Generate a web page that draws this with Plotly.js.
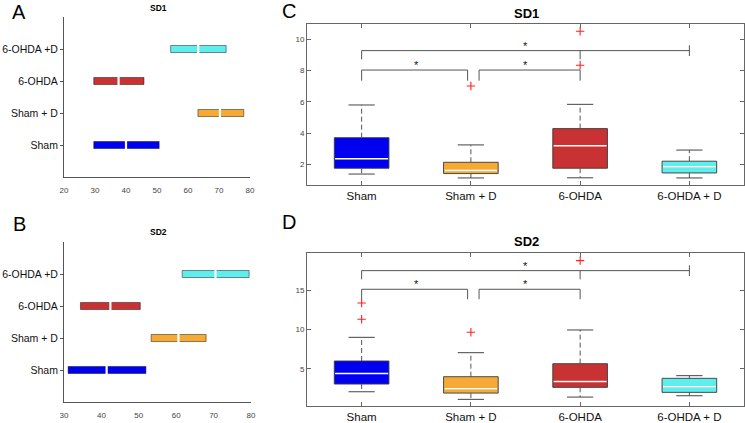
<!DOCTYPE html>
<html>
<head>
<meta charset="utf-8">
<script src="https://cdn.plot.ly/plotly-3.0.1.min.js"></script>
<style>html,body{margin:0;padding:0;background:#fff;}#chart{width:745px;height:423px;}</style>
</head>
<body>
<div id="chart"></div>
<script>
// ---------- data ----------
const groups = ['Sham', 'Sham + D', '6-OHDA', '6-OHDA + D'];
const intervalLabels = ['Sham', 'Sham + D', '6-OHDA', '6-OHDA +D'];
const groupColors = ['#0000f0', '#f6a935', '#c83232', '#5eeeee'];

// Panel A (SD1 intervals)
const aLow  = [29.6, 63.2, 29.6, 54.4];
const aHigh = [50.7, 78.0, 45.8, 72.3];
const aMid  = [40.0, 70.3, 37.6, 63.3];
// Panel B (SD2 intervals)
const bLow  = [31.1, 53.3, 34.4, 61.6];
const bHigh = [51.9, 68.0, 50.4, 79.5];
const bMid  = [41.4, 60.6, 42.4, 70.5];

// Panel C (SD1 box plots)
const cQ1  = [1.77, 1.43, 1.77, 1.47];
const cMed = [2.38, 1.62, 3.21, 1.87];
const cQ3  = [3.72, 2.15, 4.30, 2.22];
const cLo  = [1.40, 1.15, 1.16, 1.15];
const cHi  = [5.81, 3.26, 5.85, 2.93];
const cOutGroup = [1, 2, 2];
const cOutVal   = [7.02, 8.35, 10.52];
// Panel D (SD2 box plots)
const dQ1  = [3.04, 1.89, 2.62, 1.98];
const dMed = [4.40, 2.45, 3.38, 2.70];
const dQ3  = [5.98, 3.98, 5.64, 3.77];
const dLo  = [2.06, 1.09, 1.38, 1.55];
const dHi  = [9.00, 7.04, 9.94, 4.11];
const dOutGroup = [0, 0, 1, 2];
const dOutVal   = [13.38, 11.30, 9.64, 18.79];

// significance brackets
const sigPairs = [[0, 1], [1, 2], [0, 3]];
const sigMid   = [null, null, 2];
const cSigY    = [8.04, 8.04, 9.28];
const cSigDrop = [7.36, 7.36, 8.72];
const dSigY    = [15.13, 15.13, 17.51];
const dSigDrop = [13.87, 13.87, 16.40];

// ---------- build ----------
const FONT = 'Liberation Sans, Arial, sans-serif';
const traces = [];
const shapes = [];
const annotations = [];
const idx = groups.map((_, i) => i);

function intervalPanel(low, high, mid, xa, ya) {
  traces.push({
    type: 'bar', orientation: 'h', y: idx, base: low,
    x: high.map((h, i) => h - low[i]), width: 0.22,
    marker: {color: groupColors, line: {color: 'rgba(0,0,0,0.45)', width: 1}},
    xaxis: xa, yaxis: ya, hoverinfo: 'skip', showlegend: false
  });
  traces.push({
    type: 'scatter', mode: 'markers', x: mid, y: idx,
    marker: {symbol: 'line-ns-open', size: 7, color: '#ffffff', line: {color: '#ffffff', width: 2.2}},
    xaxis: xa, yaxis: ya, hoverinfo: 'skip', showlegend: false
  });
}

function boxPanel(q1, med, q3, lo, hi, outG, outV, sigY, sigDrop, xa, ya) {
  const xr = xa.replace('axis', ''), yr = ya.replace('axis', '');
  groups.forEach((g, i) => {
    traces.push({
      type: 'box', x: [i], q1: [q1[i]], median: [med[i]], q3: [q3[i]],
      lowerfence: [q1[i]], upperfence: [q3[i]], width: 0.5, whiskerwidth: 0,
      fillcolor: groupColors[i], line: {color: '#3a3a3a', width: 0.9},
      boxpoints: false, xaxis: xa, yaxis: ya, hoverinfo: 'skip', showlegend: false
    });
    const L = (x0, y0, x1, y1, color, w, dash) => shapes.push({
      type: 'line', xref: xr, yref: yr, x0, y0, x1, y1, layer: 'above',
      line: {color, width: w, dash: dash || 'solid'}
    });
    L(i - 0.243, med[i], i + 0.243, med[i], '#ffffff', 1.5);
    L(i, q3[i], i, hi[i], '#555555', 1, '5px,3px');
    L(i, q1[i], i, lo[i], '#555555', 1, '5px,3px');
    L(i - 0.12, hi[i], i + 0.12, hi[i], '#444444', 1);
    L(i - 0.12, lo[i], i + 0.12, lo[i], '#444444', 1);
  });
  traces.push({
    type: 'scatter', mode: 'markers', x: outG, y: outV,
    marker: {symbol: 'cross-thin-open', size: 6, color: '#ff2020', line: {color: '#ff2020', width: 1.1}},
    xaxis: xa, yaxis: ya, hoverinfo: 'skip', showlegend: false
  });
  sigPairs.forEach((p, k) => {
    const [a, b] = p;
    const x0 = a + (a === 1 ? 0.075 : 0);
    const x1 = b - (b === 1 ? 0.03 : 0);
    const y = sigY[k], dr = sigDrop[k];
    const S = (xx0, yy0, xx1, yy1) => shapes.push({
      type: 'line', xref: xr, yref: yr, x0: xx0, y0: yy0, x1: xx1, y1: yy1,
      layer: 'above', line: {color: '#555555', width: 1}
    });
    S(x0, y, x1, y);
    S(x0, y, x0, dr);
    if (b === 3) {
      const h = (y - dr) * 0.62;
      S(x1, y + h, x1, y - h);
    } else {
      S(x1, y, x1, dr);
    }
    if (sigMid[k] !== null) S(sigMid[k], y, sigMid[k], dr);
    annotations.push({
      xref: xr, yref: yr, x: (a + b) / 2, y: y, text: '*', showarrow: false,
      yanchor: 'bottom', yshift: -3, font: {family: FONT, size: 11, color: '#111'}
    });
  });
}

intervalPanel(aLow, aHigh, aMid, 'x', 'y');
intervalPanel(bLow, bHigh, bMid, 'x2', 'y2');
boxPanel(cQ1, cMed, cQ3, cLo, cHi, cOutGroup, cOutVal, cSigY, cSigDrop, 'x3', 'y3');
boxPanel(dQ1, dMed, dQ3, dLo, dHi, dOutGroup, dOutVal, dSigY, dSigDrop, 'x4', 'y4');

// ---------- layout ----------
const W = 745, H = 423;
const px = v => v / W;
const py = v => (H - v) / H;

const intervalX = (lo, hi, dom, ya) => ({
  domain: dom, range: [lo, hi], anchor: ya, showgrid: false, zeroline: false,
  showline: true, linecolor: '#555', linewidth: 1, ticks: '',
  tickvals: [20, 30, 40, 50, 60, 70, 80].filter(v => v >= lo && v <= hi),
  tickfont: {family: FONT, size: 8, color: '#444'}, ticklabelstandoff: 5, fixedrange: true
});
const intervalY = (dom, xa) => ({
  domain: dom, range: [-1, 4], anchor: xa, showgrid: false, zeroline: false,
  showline: true, linecolor: '#555', linewidth: 1, ticks: 'outside', ticklen: 3,
  tickcolor: '#555', tickvals: idx, ticktext: intervalLabels,
  tickfont: {family: FONT, size: 10.5, color: '#111'}, ticklabelstandoff: 0, fixedrange: true
});
const boxX = (dom, ya) => ({
  domain: dom, range: [-0.5, 3.5], anchor: ya, showgrid: false, zeroline: false,
  showline: true, mirror: 'ticks', linecolor: '#666', linewidth: 1,
  ticks: 'inside', ticklen: 4, tickcolor: '#666', tickvals: idx, ticktext: groups,
  tickfont: {family: FONT, size: 11.5, color: '#111'}, fixedrange: true
});
const boxY = (dom, xa, range, tv) => ({
  domain: dom, range: range, anchor: xa, showgrid: false, zeroline: false,
  showline: true, mirror: 'ticks', linecolor: '#666', linewidth: 1,
  ticks: 'inside', ticklen: 4, tickcolor: '#666', tickvals: tv,
  tickfont: {family: FONT, size: 8, color: '#444'}, fixedrange: true
});

const label = (t, x, y, size, bold) => ({
  xref: 'paper', yref: 'paper', x: px(x), y: py(y), xanchor: 'center', yanchor: 'middle',
  text: bold ? '<b>' + t + '</b>' : t, showarrow: false,
  font: {family: FONT, size: size, color: '#000'}
});
annotations.push(
  label('A', 19, 12, 20, false),
  label('B', 19, 224, 20, false),
  label('C', 289, 11, 20, false),
  label('D', 289, 222, 20, false),
  label('SD1', 158, 8, 8.5, true),
  label('SD2', 158, 232, 8.5, true),
  label('SD1', 526, 13, 13, true),
  label('SD2', 526, 242, 13, true)
);

const layout = {
  width: W, height: H, margin: {l: 0, r: 0, t: 0, b: 0},
  paper_bgcolor: '#fff', plot_bgcolor: '#fff', showlegend: false,
  font: {family: FONT},
  boxmode: 'overlay', barmode: 'overlay',
  xaxis:  intervalX(20, 80, [px(64), px(250)], 'y'),
  yaxis:  intervalY([py(177), py(17)], 'x'),
  xaxis2: intervalX(30, 80, [px(64), px(251)], 'y2'),
  yaxis2: intervalY([py(402), py(242)], 'x2'),
  xaxis3: boxX([px(307), px(744)], 'y3'),
  yaxis3: boxY([py(185), py(24)], 'x3', [0.7, 10.98], [2, 4, 6, 8, 10]),
  xaxis4: boxX([px(307), px(744)], 'y4'),
  yaxis4: boxY([py(405.7), py(253.3)], 'x4', [0.28, 19.72], [5, 10, 15]),
  shapes: shapes, annotations: annotations
};

Plotly.newPlot('chart', traces, layout, {displayModeBar: false, staticPlot: true});
</script>
</body>
</html>
